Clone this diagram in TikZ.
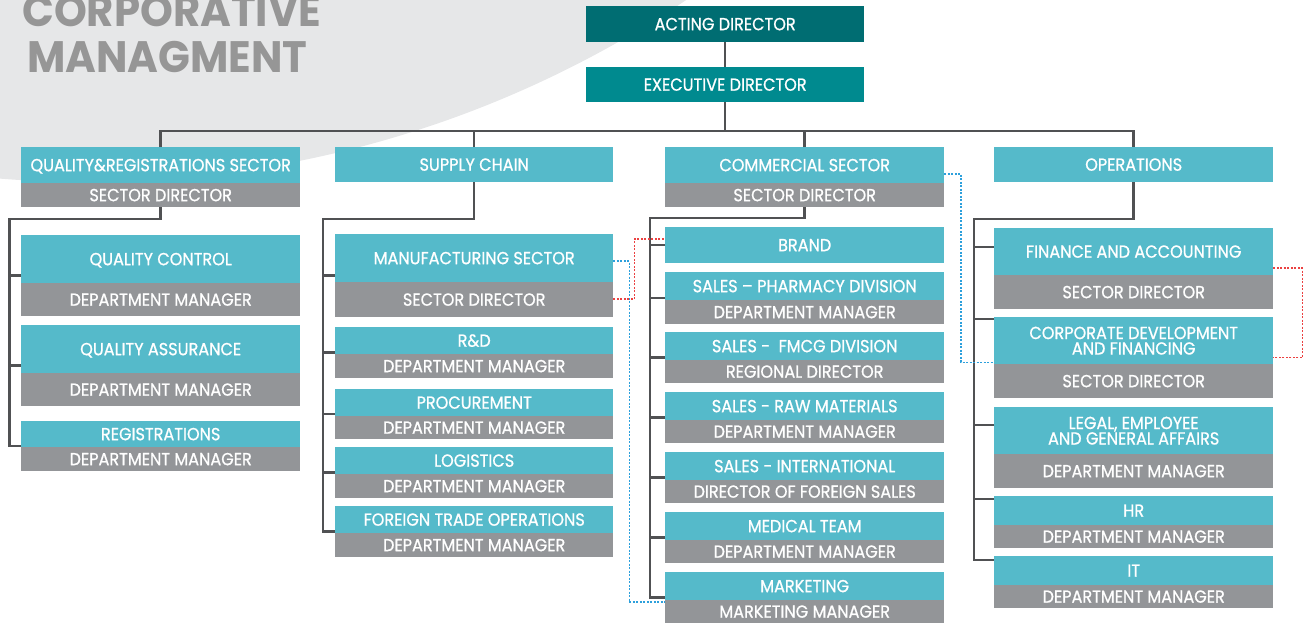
\documentclass[tikz,border=0pt]{standalone}
\usepackage{fontspec}
\setmainfont{Poppins}
\newfontfamily\boxfont[FakeStretch=0.92,FakeBold=0.8]{Poppins}
\newfontfamily\titlefont[FakeStretch=0.95]{Poppins}
\usetikzlibrary{calc}
\definecolor{tealc}{RGB}{85,186,202}
\definecolor{grayc}{RGB}{147,149,152}
\definecolor{darkteal}{RGB}{0,109,114}
\definecolor{midteal}{RGB}{0,138,143}
\definecolor{bgc}{RGB}{230,231,232}
\definecolor{linec}{RGB}{80,81,83}
\definecolor{titlec}{RGB}{150,150,150}
\definecolor{bluec}{RGB}{45,160,220}
\definecolor{redc}{RGB}{235,65,65}
\newcommand\pairmid[3]{\path ($(#1.north west)!0.5!(#2.south west)$) coordinate (#3);}
\begin{document}
\begin{tikzpicture}[x=1pt,y=-1pt,
  box/.style={anchor=north west, inner sep=0pt, text=white, minimum width=279pt, align=center,
    font=\boxfont\fontsize{17.5}{15.5}\selectfont},
  sl/.style={text height=12pt, text depth=0pt},
  tbox/.style={box, fill=tealc},
  gbox/.style={box, fill=grayc, sl},
  conn/.style={draw=linec, line width=2.5pt},
  bluedot/.style={draw=bluec, line width=1.6pt, dash pattern=on 2pt off 1.5pt},
  reddot/.style={draw=redc, line width=1.6pt, dash pattern=on 2pt off 1.5pt},
  titletext/.style={anchor=base west, inner sep=0pt, text=titlec,
    font=\titlefont\bfseries\fontsize{44}{44}\selectfont}]
\useasboundingbox (0,0) rectangle (1303,623);
\begin{scope}
  \clip (0,0) rectangle (1303,623);
  \fill[bgc] (86,-898) circle[radius=1080pt];
\end{scope}
% title
\node[titletext] (t1) at (22,27) {CORPORATIVE};
\node[titletext] (t2) at (27,73) {MANAGMENT};
% top
\node[tbox, sl, fill=darkteal, minimum width=278pt, minimum height=36pt] (ad) at (586,6) {ACTING DIRECTOR};
\node[tbox, sl, fill=midteal, minimum width=278pt, minimum height=35pt] (ed) at (586,67) {EXECUTIVE DIRECTOR};
% column 1
\node[tbox, sl, minimum height=36pt] (q1) at (21,147) {QUALITY\&REGISTRATIONS SECTOR};
\node[gbox, minimum height=24pt] (q1g) at (21,183) {SECTOR DIRECTOR};
\node[tbox, sl, minimum height=48pt] (qc) at (21,235) {QUALITY CONTROL};
\node[gbox, minimum height=33pt] (qcg) at (21,283) {DEPARTMENT MANAGER};
\node[tbox, sl, minimum height=48pt] (qa) at (21,325) {QUALITY ASSURANCE};
\node[gbox, minimum height=33pt] (qag) at (21,373) {DEPARTMENT MANAGER};
\node[tbox, sl, minimum height=26pt] (rg) at (21,421) {REGISTRATIONS};
\node[gbox, minimum height=24pt] (rgg) at (21,447) {DEPARTMENT MANAGER};
% column 2
\node[tbox, sl, minimum width=278pt, minimum height=35pt] (sc) at (335,147) {SUPPLY CHAIN};
\node[tbox, sl, minimum width=278pt, minimum height=48pt] (mf) at (335,234) {MANUFACTURING SECTOR};
\node[gbox, minimum width=278pt, minimum height=35pt] (mfg) at (335,282) {SECTOR DIRECTOR};
\node[tbox, sl, minimum width=278pt, minimum height=27pt] (rd) at (335,327) {R\&D};
\node[gbox, minimum width=278pt, minimum height=24pt] (rdg) at (335,354) {DEPARTMENT MANAGER};
\node[tbox, sl, minimum width=278pt, minimum height=27pt] (pr) at (335,389) {PROCUREMENT};
\node[gbox, minimum width=278pt, minimum height=23pt] (prg) at (335,416) {DEPARTMENT MANAGER};
\node[tbox, sl, minimum width=278pt, minimum height=27pt] (lg) at (335,447) {LOGISTICS};
\node[gbox, minimum width=278pt, minimum height=24pt] (lgg) at (335,474) {DEPARTMENT MANAGER};
\node[tbox, sl, minimum width=278pt, minimum height=27pt] (ft) at (335,506) {FOREIGN TRADE OPERATIONS};
\node[gbox, minimum width=278pt, minimum height=24pt] (ftg) at (335,533) {DEPARTMENT MANAGER};
% column 3
\node[tbox, sl, minimum height=36pt] (cs) at (665,147) {COMMERCIAL SECTOR};
\node[gbox, minimum height=24pt] (csg) at (665,183) {SECTOR DIRECTOR};
\node[tbox, sl, minimum height=36pt] (br) at (665,227) {BRAND};
\node[tbox, sl, minimum height=28pt] (sp) at (665,272) {SALES – PHARMACY DIVISION};
\node[gbox, minimum height=24pt] (spg) at (665,300) {DEPARTMENT MANAGER};
\node[tbox, sl, minimum height=28pt] (sf) at (665,332) {SALES -\ \ FMCG DIVISION};
\node[gbox, minimum height=23pt] (sfg) at (665,360) {REGIONAL DIRECTOR};
\node[tbox, sl, minimum height=28pt] (sr) at (665,392) {SALES - RAW MATERIALS};
\node[gbox, minimum height=23pt] (srg) at (665,420) {DEPARTMENT MANAGER};
\node[tbox, sl, minimum height=28pt] (si) at (665,452) {SALES - INTERNATIONAL};
\node[gbox, minimum height=23pt] (sig) at (665,480) {DIRECTOR OF FOREIGN SALES};
\node[tbox, sl, minimum height=28pt] (md) at (665,512) {MEDICAL TEAM};
\node[gbox, minimum height=23pt] (mdg) at (665,540) {DEPARTMENT MANAGER};
\node[tbox, sl, minimum height=28pt] (mk) at (665,572) {MARKETING};
\node[gbox, minimum height=23pt] (mkg) at (665,600) {MARKETING MANAGER};
% column 4
\node[tbox, sl, minimum height=35pt] (op) at (994,147) {OPERATIONS};
\node[tbox, sl, minimum height=47pt] (fa) at (994,228) {FINANCE AND ACCOUNTING};
\node[gbox, minimum height=34pt] (fag) at (994,275) {SECTOR DIRECTOR};
\node[tbox, minimum height=47pt] (cd) at (994,317) {CORPORATE DEVELOPMENT\\AND FINANCING};
\node[gbox, minimum height=34pt] (cdg) at (994,364) {SECTOR DIRECTOR};
\node[tbox, minimum height=47pt] (le) at (994,407) {LEGAL, EMPLOYEE\\AND GENERAL AFFAIRS};
\node[gbox, minimum height=34pt] (leg) at (994,454) {DEPARTMENT MANAGER};
\node[tbox, sl, minimum height=29pt] (hr) at (994,496) {HR};
\node[gbox, minimum height=23pt] (hrg) at (994,525) {DEPARTMENT MANAGER};
\node[tbox, sl, minimum height=29pt] (it) at (994,556) {IT};
\node[gbox, minimum height=23pt] (itg) at (994,585) {DEPARTMENT MANAGER};
% top connectors
\draw[conn] (ad.south) -- (ed.north);
\draw[conn] (ed.south) -- (ed.south |- 0,131);
\draw[conn] (q1.north) |- (op.north |- 0,131) -- (op.north);
\draw[conn] (sc.north) -- (sc.north |- 0,131);
\draw[conn] (cs.north) -- (cs.north |- 0,131);
% column 1 tree
\coordinate (c1) at (9.5,219);
\pairmid{qc}{qcg}{mqc}
\pairmid{qa}{qag}{mqa}
\pairmid{rg}{rgg}{mrg}
\draw[conn] (q1g.south) |- (c1) |- (mrg);
\draw[conn] (mqc) -- (mqc -| c1);
\draw[conn] (mqa) -- (mqa -| c1);
% column 2 tree
\coordinate (c2) at (323,219);
\pairmid{mf}{mfg}{mmf}
\pairmid{rd}{rdg}{mrd}
\pairmid{pr}{prg}{mpr}
\pairmid{lg}{lgg}{mlg}
\pairmid{ft}{ftg}{mft}
\draw[conn] (sc.south) |- (c2) |- (mft);
\draw[conn] (mmf) -- (mmf -| c2);
\draw[conn] (mrd) -- (mrd -| c2);
\draw[conn] (mpr) -- (mpr -| c2);
\draw[conn] (mlg) -- (mlg -| c2);
% column 3 tree
\coordinate (c3) at (650,218);
\pairmid{sp}{spg}{msp}
\pairmid{sf}{sfg}{msf}
\pairmid{sr}{srg}{msr}
\pairmid{si}{sig}{msi}
\pairmid{md}{mdg}{mmd}
\path (mk.south west) coordinate (mmk);
\draw[conn] (csg.south) |- (c3) |- ($(mmk)+(0,-3)$);
\draw[conn] (br.west) -- (br.west -| c3);
\draw[conn] (msp) -- (msp -| c3);
\draw[conn] (msf) -- (msf -| c3);
\draw[conn] (msr) -- (msr -| c3);
\draw[conn] (msi) -- (msi -| c3);
\draw[conn] (mmd) -- (mmd -| c3);
% column 4 tree
\coordinate (c4) at (974,219);
\path ($(fa.north west)+(0,19)$) coordinate (mfa);
\path ($(cd.north west)+(0,2)$) coordinate (mcd);
\path ($(le.north west)+(0,18)$) coordinate (mle);
\path ($(hr.north west)+(0,3)$) coordinate (mhr);
\path ($(it.north west)+(0,4)$) coordinate (mit);
\draw[conn] (op.south) |- (c4) |- (mit);
\draw[conn] (mfa) -- (mfa -| c4);
\draw[conn] (mcd) -- (mcd -| c4);
\draw[conn] (mle) -- (mle -| c4);
\draw[conn] (mhr) -- (mhr -| c4);
% dotted relations
\draw[bluedot] ($(cs.north east)+(0,27)$) -| ($(cd.south west)+(-33,-2)$) -- ($(cd.south west)+(0,-2)$);
\draw[reddot] ($(fa.north east)+(0,40)$) -- ++(29,0) |- ($(cd.south east)+(0,-7)$);
\draw[bluedot] ($(mf.north east)+(0,27)$) -- ++(16,0) |- ($(mkg.north west)+(0,2)$);
\draw[reddot] ($(mfg.north east)+(0,17)$) -- ++(21,0) |- ($(br.north west)+(0,12)$);
\end{tikzpicture}
\end{document}
